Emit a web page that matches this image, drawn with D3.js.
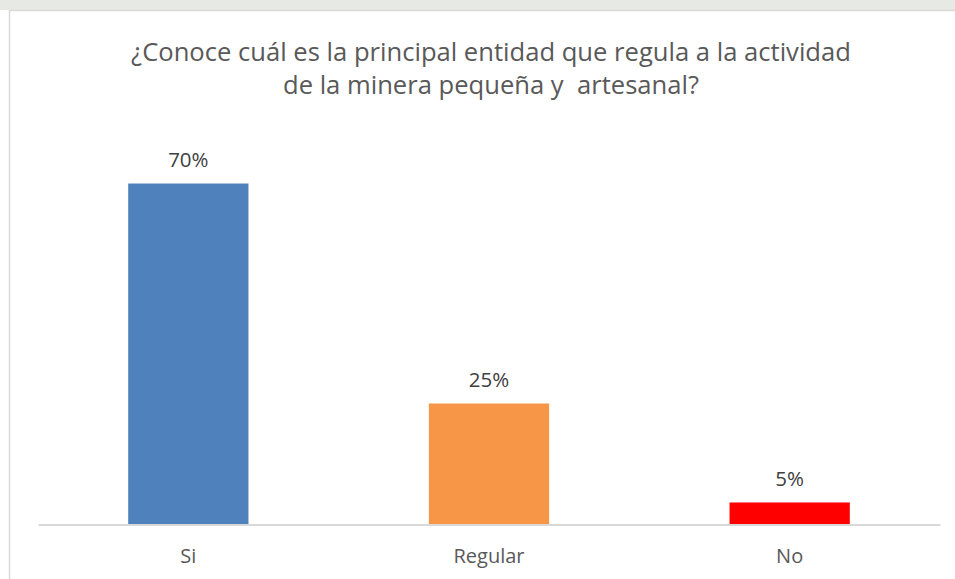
<!DOCTYPE html>
<meta charset="utf-8">
<title>Entidad que regula la minería</title>
<style>
  body { margin: 0; background: #fff; }
  text { font-family: "Open Sans", sans-serif; white-space: pre; }
</style>
<body>
<svg id="chart" width="955" height="579"></svg>
<script src="https://cdn.jsdelivr.net/npm/d3@7"></script>
<script>

var categories = ["Si", "Regular", "No"];
var values = [0.7045, 0.25, 0.0455]; // share of answers
var colors = ["#4F81BD", "#F79646", "#FF0000"];
var titleLines = ["¿Conoce cuál es la principal entidad que regula a la actividad",
                  "de la minera pequeña y  artesanal?"];

var width = 955,
    height = 579,
    axisY = 524.5;

var svg = d3.select("#chart");

// faint strip of the page behind the chart
svg.append("rect")
    .attr("x", 0).attr("y", 0)
    .attr("width", width).attr("height", 10)
    .attr("fill", "#e7e9e5");

// chart frame (runs off the right and bottom edge)
svg.append("rect")
    .attr("x", 9.5).attr("y", 10.5)
    .attr("width", 1000).attr("height", 600)
    .attr("fill", "#fff")
    .attr("stroke", "#d9d9d9")
    .attr("stroke-width", 1.5);

svg.append("text")
    .attr("x", 491)
    .attr("y", 61)
    .attr("text-anchor", "middle")
    .attr("font-size", 25.6)
    .attr("fill", "#595959")
    .selectAll("tspan")
    .data(titleLines)
    .enter().append("tspan")
      .attr("x", 491)
      .attr("dy", function(d, i) { return i ? 33 : 0; })
      .text(function(d) { return d; });

var x = d3.scaleBand()
    .domain(categories)
    .range([38, 940])
    .paddingInner(0.6)
    .paddingOuter(0.3);

var y = d3.scaleLinear()
    .domain([0, 0.8])
    .range([axisY, axisY - 387.2]);

var fmt = d3.format(".0%");

var data = categories.map(function(c, i) { return {cat: c, value: values[i], color: colors[i]}; });

svg.selectAll("rect.bar")
    .data(data)
    .enter().append("rect")
      .attr("class", "bar")
      .attr("x", function(d) { return x(d.cat); })
      .attr("y", function(d) { return y(d.value); })
      .attr("width", x.bandwidth())
      .attr("height", function(d) { return axisY - y(d.value); })
      .attr("fill", function(d) { return d.color; });

svg.selectAll("text.value")
    .data(data)
    .enter().append("text")
      .attr("class", "value")
      .attr("x", function(d) { return x(d.cat) + x.bandwidth() / 2; })
      .attr("y", function(d) { return y(d.value) - 16.5; })
      .attr("text-anchor", "middle")
      .attr("font-size", 20.5)
      .attr("fill", "#404040")
      .text(function(d) { return fmt(d.value); });

// category axis
var xAxis = svg.append("g")
    .attr("transform", "translate(0," + axisY + ")")
    .call(d3.axisBottom(x).tickSize(0).tickPadding(24));

xAxis.select(".domain")
    .attr("stroke", "#d9d9d9")
    .attr("stroke-width", 2);

xAxis.selectAll("text")
    .attr("font-family", "Open Sans, sans-serif")
    .attr("font-size", 20)
    .attr("fill", "#595959")
    .attr("dy", "0.71em");

</script>
</body>
